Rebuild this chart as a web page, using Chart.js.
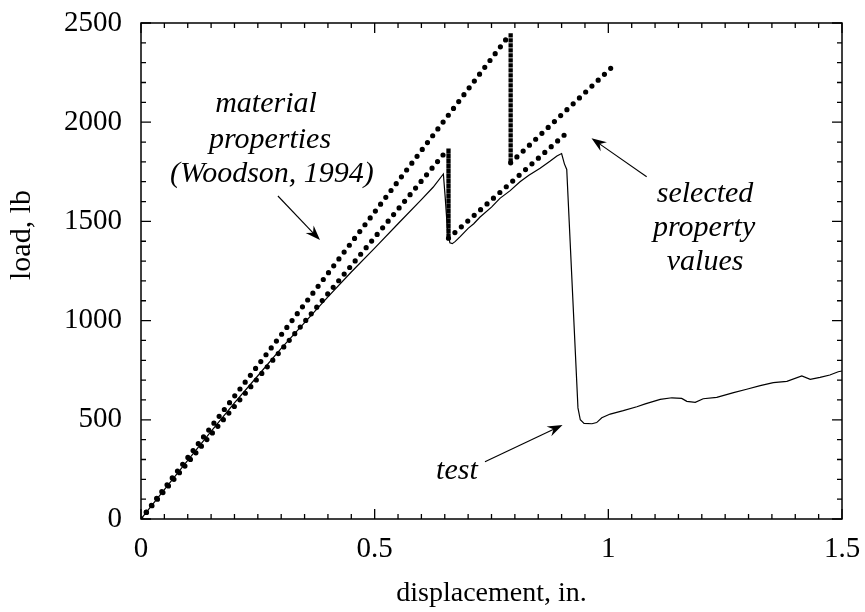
<!DOCTYPE html>
<html>
<head>
<meta charset="utf-8">
<script src="https://cdn.jsdelivr.net/npm/chart.js@4/dist/chart.umd.min.js"></script>
<style>
  html, body { margin: 0; padding: 0; background: #fff; }
  #wrap { width: 865px; height: 612px; }
</style>
</head>
<body>
<div id="wrap"><canvas id="loadchart" width="865" height="612"></canvas></div>
<script>
// material properties (Woodson, 1994)
const dispMaterial = [0, 0.791, 0.791, 1.017];
const loadMaterial = [0, 2448, 1795, 2298];

// selected property values
const dispSelected = [0, 0.658, 0.658, 0.918];
const loadSelected = [0, 1868, 1415, 1961];

// test record
const dispTest = [0, 0.05, 0.1, 0.15, 0.2, 0.25, 0.3, 0.35, 0.4, 0.45, 0.5, 0.55, 0.6, 0.625, 0.647,
  0.651, 0.656, 0.661, 0.666, 0.672, 0.683, 0.7, 0.712, 0.725, 0.75, 0.768, 0.79, 0.811, 0.83, 0.854,
  0.875, 0.89, 0.9, 0.906, 0.911, 0.935, 0.94, 0.948, 0.965, 0.975, 0.986, 1.004, 1.032, 1.061, 1.079,
  1.111, 1.136, 1.157, 1.168, 1.186, 1.203, 1.232, 1.268, 1.296, 1.325, 1.353, 1.382, 1.414, 1.432,
  1.453, 1.474, 1.492, 1.5];
const loadTest = [0, 148, 296, 442, 585, 722, 860, 990, 1120, 1245, 1365, 1488, 1610, 1672, 1739,
  1620, 1450, 1392, 1388, 1398, 1423, 1465, 1488, 1521, 1572, 1616, 1655, 1700, 1733, 1768,
  1803, 1830, 1842, 1790, 1762, 560, 500, 482, 480, 486, 510, 529, 546, 566, 580,
  603, 611, 608, 593, 588, 606, 613, 637, 654, 672, 687, 694, 721, 704,
  714, 726, 742, 746];

// axis labels
const xTickLabels = [0, 0.5, 1, 1.5];
const yTickLabels = [0, 500, 1000, 1500, 2000, 2500];
const xTitle = 'displacement, in.';
const yTitle = 'load, lb';

// callouts: text lines and arrows, in data units
const notes = [
  { lines: ['material', 'properties', '(Woodson, 1994)'], x: [0.2675, 0.276, 0.280], y: [2051, 1870, 1699] },
  { lines: ['selected', 'property', 'values'], x: [1.207, 1.205, 1.207], y: [1598, 1426, 1255] },
  { lines: ['test'], x: [0.676], y: [202] }
];
const arrows = [
  { from: [0.293, 1628], to: [0.383, 1406] },
  { from: [1.082, 1725], to: [0.964, 1919] },
  { from: [0.736, 289], to: [0.902, 474] }
];

const serif = '"Liberation Serif", "Times New Roman", serif';
const pts = (xs, ys) => xs.map((x, i) => ({ x: x, y: ys[i] }));
const isDrop = ctx => ctx.p0.parsed.x === ctx.p1.parsed.x;

function dottedSet(label, xs, ys) {
  return {
    label: label,
    data: pts(xs, ys),
    borderColor: '#000',
    borderWidth: 5.2,
    pointRadius: 0,
    tension: 0,
    fill: false,
    segment: {
      borderDash: ctx => isDrop(ctx) ? [3.2, 1.8] : [0, 8.6],
      borderCapStyle: ctx => isDrop(ctx) ? 'butt' : 'round',
      borderWidth: ctx => isDrop(ctx) ? 4.3 : 5.2
    }
  };
}

// keep tick labels from pushing the plot frame inwards
function noLabelPadding(s) {
  s.paddingTop = 0; s.paddingBottom = 0; s.paddingLeft = 0; s.paddingRight = 0;
}

const frameAndNotes = {
  id: 'frameAndNotes',
  afterDraw(chart) {
    const c = chart.ctx;
    const a = chart.chartArea;
    const xs = chart.scales.x, ys = chart.scales.y;
    c.save();
    c.strokeStyle = '#000';
    c.fillStyle = '#000';
    c.lineWidth = 1.5;
    c.strokeRect(a.left, a.top, a.right - a.left, a.bottom - a.top);

    // inward ticks on all four sides
    c.lineWidth = 1.3;
    c.beginPath();
    for (let i = 0; i <= 30; i++) {
      const px = xs.getPixelForValue(i * 0.05);
      const len = (i % 10 === 0) ? 10 : 5;
      c.moveTo(px, a.bottom); c.lineTo(px, a.bottom - len);
      c.moveTo(px, a.top); c.lineTo(px, a.top + len);
    }
    for (let i = 0; i <= 25; i++) {
      const py = ys.getPixelForValue(i * 100);
      const len = (i % 5 === 0) ? 10 : 5;
      c.moveTo(a.left, py); c.lineTo(a.left + len, py);
      c.moveTo(a.right, py); c.lineTo(a.right - len, py);
    }
    c.stroke();

    // axis titles
    c.font = '28px ' + serif;
    c.textAlign = 'center';
    c.textBaseline = 'middle';
    c.fillText(xTitle, (a.left + a.right) / 2, 594);
    c.save();
    c.translate(22, 235);
    c.rotate(-Math.PI / 2);
    c.font = '30px ' + serif;
    c.fillText(yTitle, 0, 0);
    c.restore();

    // callout text
    c.font = 'italic 30px ' + serif;
    c.textBaseline = 'alphabetic';
    notes.forEach(n => {
      n.lines.forEach((t, i) => {
        c.fillText(t, xs.getPixelForValue(n.x[i]), ys.getPixelForValue(n.y[i]));
      });
    });

    // arrows
    c.lineWidth = 1.1;
    arrows.forEach(ar => {
      const x0 = xs.getPixelForValue(ar.from[0]), y0 = ys.getPixelForValue(ar.from[1]);
      const x1 = xs.getPixelForValue(ar.to[0]), y1 = ys.getPixelForValue(ar.to[1]);
      const ang = Math.atan2(y1 - y0, x1 - x0);
      c.beginPath();
      c.moveTo(x0, y0);
      c.lineTo(x1 - 8 * Math.cos(ang), y1 - 8 * Math.sin(ang));
      c.stroke();
      c.save();
      c.translate(x1, y1);
      c.rotate(ang);
      c.beginPath();
      c.moveTo(0, 0);
      c.lineTo(-15, -5.5);
      c.lineTo(-10, 0);
      c.lineTo(-15, 5.5);
      c.closePath();
      c.fill();
      c.restore();
    });
    c.restore();
  }
};

new Chart(document.getElementById('loadchart').getContext('2d'), {
  type: 'line',
  data: {
    datasets: [
      dottedSet('material properties (Woodson, 1994)', dispMaterial, loadMaterial),
      dottedSet('selected property values', dispSelected, loadSelected),
      {
        label: 'test',
        data: pts(dispTest, loadTest),
        borderColor: '#000',
        borderWidth: 1.2,
        pointRadius: 0,
        tension: 0,
        fill: false
      }
    ]
  },
  options: {
    responsive: false,
    animation: false,
    layout: { padding: { top: 23, right: 23, left: 0, bottom: 0 } },
    plugins: { legend: { display: false }, tooltip: { enabled: false } },
    scales: {
      x: {
        type: 'linear',
        min: 0, max: 1.5,
        afterFit: s => { s.height = 93; noLabelPadding(s); },
        afterBuildTicks: s => { s.ticks = xTickLabels.map(v => ({ value: v })); },
        grid: { display: false, drawTicks: false },
        border: { display: false },
        ticks: {
          color: '#000',
          padding: 13,
          maxRotation: 0,
          autoSkip: false,
          font: { family: serif, size: 29 },
          callback: v => String(v)
        }
      },
      y: {
        type: 'linear',
        min: 0, max: 2500,
        afterFit: s => { s.width = 141; noLabelPadding(s); },
        afterBuildTicks: s => { s.ticks = yTickLabels.map(v => ({ value: v })); },
        grid: { display: false, drawTicks: false },
        border: { display: false },
        ticks: {
          color: '#000',
          padding: 19,
          autoSkip: false,
          font: { family: serif, size: 29 },
          callback: v => String(v)
        }
      }
    }
  },
  plugins: [frameAndNotes]
});
</script>
</body>
</html>
